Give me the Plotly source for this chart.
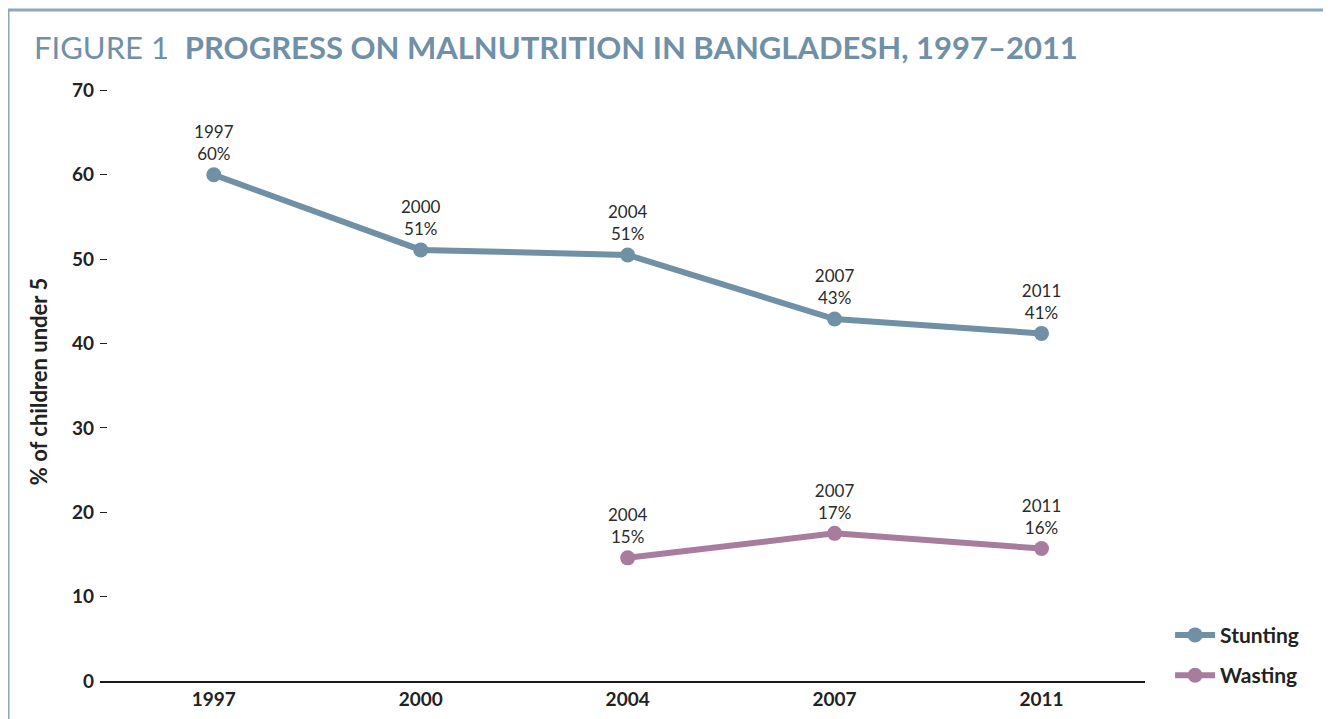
import plotly.graph_objects as go

years = ["1997", "2000", "2004", "2007", "2011"]
stunting = [60.0, 51.1, 50.5, 42.9, 41.2]
stunting_labels = ["60%", "51%", "51%", "43%", "41%"]
wasting_years = ["2004", "2007", "2011"]
wasting = [14.6, 17.5, 15.7]
wasting_labels = ["15%", "17%", "16%"]
y_ticks = [0, 10, 20, 30, 40, 50, 60, 70]

STUNT = "#7090a6"
WASTE = "#a87c9d"
FONT = "Lato"

fig = go.Figure()
fig.add_trace(go.Scatter(
    x=years, y=stunting, name="Stunting", mode="lines+markers+text", legendgroup="s",
    line=dict(color=STUNT, width=6), marker=dict(color=STUNT, size=15),
    text=[f"{y}<br>{v}" for y, v in zip(years, stunting_labels)],
    textposition="top center", textfont=dict(size=17, color="#2b2b2b", family=FONT),
    cliponaxis=False,
))
fig.add_trace(go.Scatter(
    x=wasting_years, y=wasting, name="Wasting", mode="lines+markers+text", legendgroup="w",
    line=dict(color=WASTE, width=6), marker=dict(color=WASTE, size=15),
    text=[f"{y}<br>{v}" for y, v in zip(wasting_years, wasting_labels)],
    textposition="top center", textfont=dict(size=17, color="#2b2b2b", family=FONT),
    cliponaxis=False,
))

# frame round the figure
fig.add_shape(type="rect", xref="paper", yref="paper",
              x0=-0.088, x1=1.175, y0=-0.2, y1=1.12,
              line=dict(color="#8ea7ba", width=3), layer="below")

fig.update_layout(
    width=1331, height=719,
    margin=dict(l=92, r=194, t=74, b=46),
    plot_bgcolor="white", paper_bgcolor="white",
    font=dict(family=FONT, color="#222"),
    title=dict(
        text="FIGURE 1  <b>PROGRESS ON MALNUTRITION IN BANGLADESH, 1997–2011</b>",
        x=26 / 1331, xanchor="left", y=1 - 40 / 719, yanchor="middle",
        font=dict(size=31, color="#7090a8", family=FONT),
    ),
    xaxis=dict(
        type="category", range=[-0.55, 4.5],
        showgrid=False, showline=True, linecolor="#1a1a1a", linewidth=2,
        ticks="", tickfont=dict(size=19, family=FONT, color="#222", weight="bold"),
        zeroline=False,
    ),
    yaxis=dict(
        range=[0, 71], tickvals=y_ticks, showgrid=False, zeroline=False,
        showline=False, ticks="inside", ticklen=7, tickcolor="#222", tickwidth=1,
        ticklabelstandoff=5,
        tickfont=dict(size=19, family=FONT, color="#222", weight="bold"),
        title=dict(text="<b>% of children under 5</b>", font=dict(size=22, family=FONT, color="#222"),
                   standoff=18),
    ),
    legend=dict(
        x=1.024, xanchor="left", y=0.043, yanchor="middle",
        font=dict(size=21, family=FONT, color="#222", weight="bold"),
        tracegroupgap=10, itemwidth=40, bgcolor="rgba(0,0,0,0)",
    ),
)

fig.write_html("out.html")
